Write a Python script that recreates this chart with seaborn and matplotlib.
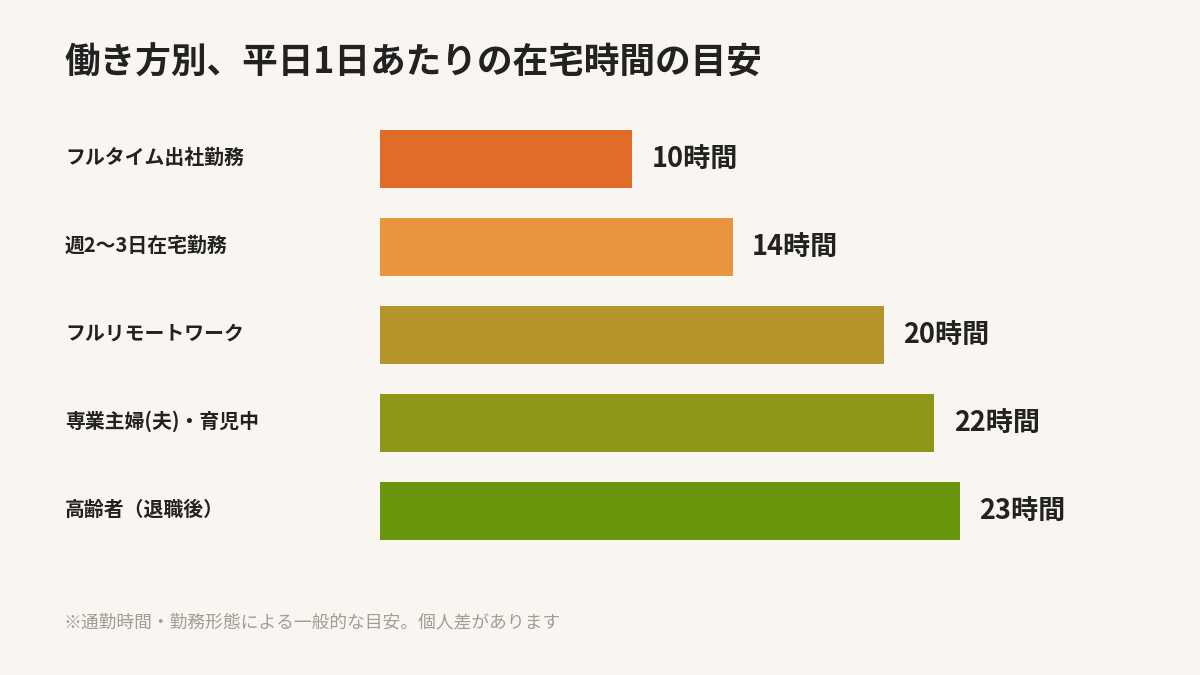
import matplotlib
matplotlib.use("Agg")
import matplotlib.pyplot as plt
import matplotlib.transforms as mtransforms
import seaborn as sns
import pandas as pd

categories = ["フルタイム出社勤務", "週2〜3日在宅勤務", "フルリモートワーク", "専業主婦(夫)・育児中", "高齢者（退職後）"]
hours = [10, 14, 20, 22, 23]
value_labels = ["10時間", "14時間", "20時間", "22時間", "23時間"]
colors = ["#E06C28", "#E89540", "#B5952A", "#8E9618", "#6A960E"]
title = "働き方別、平日1日あたりの在宅時間の目安"
footnote = "※通勤時間・勤務形態による一般的な目安。個人差があります"

BG = "#F9F5F0"
TXT = "#222222"

sns.set_theme(style="white")
plt.rcParams["font.family"] = ["Noto Sans CJK JP", "DejaVu Sans"]

df = pd.DataFrame({"cat": categories, "hours": hours})

fig = plt.figure(figsize=(12, 6.75), dpi=100, facecolor=BG)
ax = fig.add_axes([380 / 1200, 1 - 555 / 675, 756 / 1200, 440 / 675])
ax.set_facecolor(BG)

sns.barplot(data=df, y="cat", x="hours", hue="cat", palette=colors, order=categories,
            hue_order=categories, orient="h", width=0.66, saturation=1, legend=False,
            linewidth=0, ax=ax)

ax.set_xlim(0, 30)
ax.set_ylim(4.5, -0.5)
ax.set_xlabel("")
ax.set_ylabel("")
ax.set_xticks([])
ax.set_yticks([])
for s in ax.spines.values():
    s.set_visible(False)

trans = mtransforms.blended_transform_factory(fig.transFigure, ax.transData)
for i, (c, h, lab) in enumerate(zip(categories, hours, value_labels)):
    ax.text(65 / 1200, i - 0.02, c, transform=trans, ha="left", va="center",
            fontsize=14.3, fontweight="bold", color=TXT)
    ax.annotate(lab, xy=(h, i), xytext=(14.0, 0), textcoords="offset points",
                ha="left", va="center", fontsize=19.5, fontweight="bold", color=TXT)

fig.text(65 / 1200, 1 - 63 / 675, title, ha="left", va="center",
         fontsize=25.7, fontweight="bold", color=TXT)
fig.text(63 / 1200, 1 - 622 / 675, footnote, ha="left", va="center",
         fontsize=12.75, color="#A29C96")

fig.savefig("out.png", dpi=100, facecolor=BG)
